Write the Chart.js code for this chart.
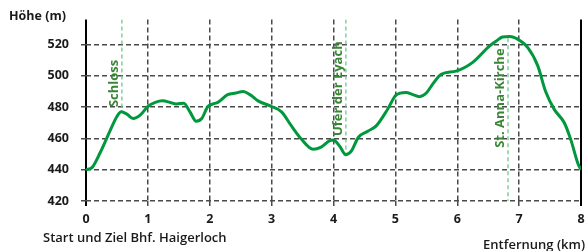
<!DOCTYPE html>
<html>
<head>
<meta charset="utf-8">
<script src="https://cdn.jsdelivr.net/npm/chart.js@4.4.0/dist/chart.umd.min.js"></script>
<style>
  html, body { margin: 0; padding: 0; background: #fff; }
  #wrap { width: 587px; height: 251px; position: relative; }
</style>
</head>
<body>
<div id="wrap"><canvas id="profile"></canvas></div>
<script>
// Elevation profile (km / m)
const distKm = [0, 0.1, 0.23, 0.39, 0.5, 0.57, 0.66, 0.76, 0.88, 1.0, 1.12, 1.24, 1.36, 1.46, 1.58, 1.68, 1.78, 1.87, 1.97, 2.05,
    2.13, 2.29, 2.42, 2.54, 2.65, 2.78, 3.0, 3.16, 3.32, 3.48, 3.67, 3.8, 3.94, 4.0, 4.1, 4.2, 4.29, 4.4, 4.55, 4.69,
    4.88, 5.01, 5.17, 5.28, 5.39, 5.5, 5.6, 5.74, 5.98, 6.25, 6.52, 6.64, 6.73, 6.85, 6.95, 7.14, 7.3, 7.43, 7.57, 7.73,
    7.84, 7.95, 8.0];
const elevation = [440, 441.5, 451, 465, 474, 477, 475.5, 472.7, 475, 480.4, 483, 484, 483, 482, 482.5, 477, 471, 472.7, 480.4, 482,
    483, 488, 489, 490, 488, 484, 480.4, 477, 468, 459.6, 453, 454.4, 458.6, 459, 455, 449.6, 452, 460.6, 464.5, 468,
    479, 487.7, 489.4, 488, 486.7, 489, 494.5, 501, 503, 508.6, 519, 522.5, 524.8, 525.2, 524, 518, 506.5, 489.8, 478.4, 470,
    458.6, 444, 440];

// Points of interest
const poiNames = ['Schloss', 'Ufer der Eyach', 'St. Anna-Kirche'];
const poiKm = [0.58, 4.2, 6.82];
const poiLineFrom = [536, 536, 524];
const poiLineTo = [477, 450, 420];
const poiLabelBase = [480, 461.5, 454];

const xTicks = [0, 1, 2, 3, 4, 5, 6, 7, 8];
const yTicks = [420, 440, 460, 480, 500, 520];

const FONT = "'Open Sans', 'Noto Sans', sans-serif";

const poiDatasets = poiKm.map((km, i) => ({
    label: poiNames[i],
    data: [{ x: km, y: poiLineFrom[i] }, { x: km, y: poiLineTo[i] }],
    borderColor: '#6cc98a',
    borderWidth: 1.3,
    borderDash: [4, 3],
    pointRadius: 0,
    order: 2
}));

const textPlugin = {
    id: 'texts',
    afterDatasetsDraw(chart) {
        const { ctx, scales: { x, y } } = chart;
        ctx.save();
        ctx.fillStyle = '#1a1a1a';
        ctx.font = 'bold 12.5px ' + FONT;
        ctx.textAlign = 'left';
        ctx.textBaseline = 'alphabetic';
        ctx.fillText('Höhe (m)', 9, 20);
        ctx.font = '600 13px ' + FONT;
        ctx.fillText('Start und Ziel Bhf. Haigerloch', 43, 242);
        ctx.textAlign = 'right';
        ctx.fillText('Entfernung (km)', 585, 249);

        // POI labels, rotated
        ctx.fillStyle = '#3a8636';
        ctx.font = 'bold 13px ' + FONT;
        ctx.textAlign = 'left';
        poiKm.forEach((km, i) => {
            ctx.save();
            ctx.translate(x.getPixelForValue(km) - 3.5, y.getPixelForValue(poiLabelBase[i]));
            ctx.rotate(-Math.PI / 2);
            ctx.fillText(poiNames[i], 0, 0);
            ctx.restore();
        });
        ctx.restore();
    }
};

const isEdge = v => v === 0 || v === 8;

new Chart(document.getElementById('profile'), {
    type: 'line',
    data: {
        datasets: [{
            label: 'Höhe',
            data: distKm.map((d, i) => ({ x: d, y: elevation[i] })),
            borderColor: '#00973d',
            borderWidth: 3,
            pointRadius: 0,
            cubicInterpolationMode: 'monotone',
            order: 1
        }].concat(poiDatasets)
    },
    options: {
        responsive: true,
        maintainAspectRatio: false,
        animation: false,
        layout: { padding: { top: 16, right: 6, left: 0, bottom: 0 } },
        plugins: {
            legend: { display: false },
            tooltip: { enabled: false }
        },
        scales: {
            x: {
                type: 'linear',
                min: 0,
                max: 8,
                afterBuildTicks: s => { s.ticks = xTicks.map(v => ({ value: v })); },
                afterFit: s => { s.height = 50; s.paddingRight = 0; s.paddingLeft = 0; },
                ticks: {
                    color: '#1a1a1a',
                    font: { family: FONT, size: 12.5, weight: 'bold' },
                    padding: 6,
                    maxRotation: 0
                },
                border: {
                    display: false,
                    dash: c => (isEdge(c.tick && c.tick.value) ? [] : [5, 3])
                },
                grid: {
                    color: c => (isEdge(c.tick && c.tick.value) ? '#000' : '#4a4a4a'),
                    lineWidth: c => (isEdge(c.tick && c.tick.value) ? 2 : 1.5),
                    tickLength: 5,
                    drawTicks: true
                }
            },
            y: {
                type: 'linear',
                min: 420,
                max: 536,
                afterBuildTicks: s => { s.ticks = yTicks.map(v => ({ value: v })); },
                afterFit: s => { s.width = 86; },
                ticks: {
                    color: '#1a1a1a',
                    font: { family: FONT, size: 12.5, weight: 'bold' },
                    padding: 12
                },
                border: { display: false, dash: [5, 3] },
                grid: {
                    color: '#4a4a4a',
                    lineWidth: 1.5,
                    tickLength: 5
                }
            }
        }
    },
    plugins: [textPlugin]
});
</script>
</body>
</html>
